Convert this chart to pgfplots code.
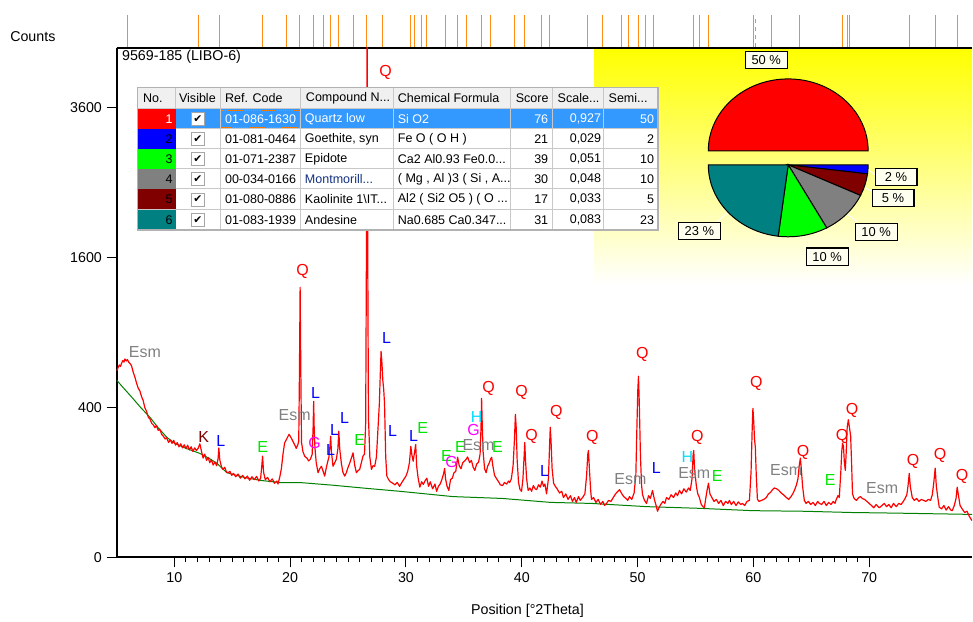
\documentclass[border=0pt]{standalone}
\usepackage{pgfplots}
\pgfplotsset{compat=1.18}
\usepackage{fontspec}
\setmainfont{Liberation Sans}
\newfontfamily\symfont{DejaVu Sans}

\definecolor{qred}{RGB}{255,0,0}
\definecolor{lblue}{RGB}{0,0,255}
\definecolor{egreen}{RGB}{0,230,0}
\definecolor{gmag}{RGB}{255,0,255}
\definecolor{hcyan}{RGB}{0,220,255}
\definecolor{kmaroon}{RGB}{128,0,0}
\definecolor{esmgray}{RGB}{128,128,128}
\definecolor{stick}{RGB}{255,140,20}
\definecolor{bgline}{RGB}{0,128,0}
\definecolor{selblue}{RGB}{51,153,255}
\definecolor{pteal}{RGB}{0,128,128}
\definecolor{pgreen}{RGB}{0,255,0}
\definecolor{gridgray}{RGB}{200,200,200}
\definecolor{headgray}{RGB}{240,240,240}
\definecolor{ivory}{RGB}{255,255,240}
\definecolor{navytext}{RGB}{20,50,130}

% peak labels of the phases, in picture pixels
\newcommand\lab[4]{\node[text=#3, inner sep=0pt, font=\fontsize{12}{12}\selectfont] at (#1,#2) {#4};}

% one row of the phase table
\def\tc{black}\def\numc{black}
\newcommand\tabrow[9]{%
  \fill[#2] (138,#1-10) rectangle (176,#1+10);
  \node[anchor=east, inner sep=0pt, text=\numc] at (173,#1) {#3};
  \draw[gray!70, fill=white] (191.5,#1-6.5) rectangle (204.5,#1+6.5);
  \node[inner sep=0pt] at (198,#1) {\symfont\fontsize{8}{8}\selectfont ✔};
  \node[anchor=west, inner sep=0pt, text=\tc] at (225,#1) {#4};
  \node[anchor=west, inner sep=0pt, text=\tc] at (305,#1) {#5};
  \node[anchor=west, inner sep=0pt, text=\tc] at (398,#1) {#6};
  \node[anchor=east, inner sep=0pt, text=\tc] at (549,#1) {#7};
  \node[anchor=east, inner sep=0pt, text=\tc] at (602,#1) {#8};
  \node[anchor=east, inner sep=0pt, text=\tc] at (655,#1) {#9};
}

\begin{document}
\begin{tikzpicture}[font=\fontsize{10.7}{12}\selectfont]
\begin{scope}[x=0.75pt, y=-0.75pt]
\useasboundingbox (0,0) rectangle (973,622);
% yellow pie background
\shade[top color=yellow, bottom color=white] (595,48) rectangle (973,285);
\end{scope}

\begin{axis}[
  at={(87.525pt,-418.5pt)}, anchor=south west,
  scale only axis, width=642.2pt, height=382.7pt,
  xmin=5.01, xmax=78.88, ymin=0, ymax=4629,
  y coord trafo/.code={\pgfmathparse{sqrt(#1)}},
  y coord inv trafo/.code={\pgfmathparse{(#1)^2}},
  ytick={0,400,1600,3600}, yticklabels={0,400,1600,3600},
  xtick={10,20,...,70}, minor x tick num=9,
  axis x line=box, axis y line=left,
  y axis line style={-},
  axis line style={line width=1.5pt, black},
  tick align=outside, xtick pos=left, ytick pos=left,
  major tick length=7.5pt, minor tick length=3.75pt,
  tick style={black, line width=0.75pt},
  ticklabel style={font=\fontsize{10.7}{12}\selectfont},
  /pgf/number format/assume math mode=true,
]
% background
\addplot[bgline, line width=0.75pt] table {
5.02 560
5.5 520
6.33 457
7.1 400
7.89 350
8.6 300
9.35 257
10.04 232
11.0 212
12.2 193
13.0 175
13.67 158
14.53 128
15.05 123
16.2 113
17.38 106
19.11 100
20.83 100
23.68 93
26.61 85
29.46 78
34.03 66
38.34 62
42.49 54
46.02 52
50.77 46
55.34 43
59.92 39
64.4 38
68.46 36
72.34 35
78.9 33
};
% measured pattern
\addplot[qred, line width=0.9pt, line join=round] table {
5.02 620
5.13 640
5.25 660
5.35 650
5.44 672
5.55 690
5.65 680
5.73 702
5.85 688
5.95 698
6.05 680
6.15 672
6.3 655
6.45 610
6.59 580
6.72 545
6.88 510
7.02 495
7.17 460
7.3 440
7.45 400
7.6 380
7.75 350
7.89 342
8.05 320
8.2 312
8.32 300
8.45 310
8.6 288
8.75 292
8.9 270
9.05 262
9.2 250
9.33 255
9.5 236
9.65 246
9.8 232
9.95 244
10.1 225
10.25 235
10.4 218
10.55 230
10.7 214
10.85 226
11.0 212
11.15 224
11.3 206
11.45 218
11.6 200
11.75 214
11.9 204
12.05 212
12.2 230
12.32 205
12.48 176
12.62 190
12.78 168
12.92 178
13.06 160
13.2 170
13.35 152
13.5 162
13.65 150
13.78 175
13.84 214
13.92 170
14.07 146
14.2 138
14.35 145
14.5 130
14.65 128
14.8 132
14.95 120
15.1 126
15.3 116
15.5 124
15.7 112
15.9 120
16.1 110
16.3 118
16.5 106
16.7 116
16.9 108
17.1 117
17.3 104
17.45 112
17.55 150
17.62 183
17.7 130
17.85 108
18.05 114
18.25 102
18.45 110
18.65 98
18.85 104
18.95 96
19.1 115
19.24 140
19.38 190
19.52 234
19.7 250
19.9 270
20.05 258
20.24 240
20.4 225
20.52 212
20.65 225
20.74 240
20.8 600
20.86 1300
20.92 620
20.98 236
21.1 200
21.26 182
21.45 176
21.6 166
21.75 172
21.9 190
21.98 300
22.03 434
22.08 280
22.14 215
22.25 160
22.41 128
22.55 140
22.7 148
22.85 132
22.98 118
23.1 140
23.22 160
23.35 180
23.45 230
23.5 262
23.56 200
23.7 148
23.85 160
23.99 172
24.12 210
24.2 284
24.28 210
24.42 158
24.55 130
24.71 118
24.85 128
25.0 145
25.14 158
25.28 175
25.43 195
25.58 150
25.72 128
25.85 134
26.0 138
26.15 160
26.29 183
26.42 190
26.52 320
26.58 1500
26.64 5300
26.7 1600
26.76 350
26.88 180
27.02 138
27.15 150
27.3 148
27.45 180
27.58 292
27.7 420
27.8 640
27.85 757
27.92 680
28.0 560
28.08 500
28.15 420
28.25 180
28.35 118
28.5 108
28.65 102
28.87 98
29.05 94
29.25 100
29.45 90
29.6 98
29.8 108
30.0 118
30.15 132
30.3 160
30.42 220
30.5 190
30.62 165
30.75 200
30.84 227
30.92 150
31.05 112
31.2 88
31.35 102
31.5 95
31.65 105
31.8 112
31.95 90
32.1 102
32.3 84
32.5 96
32.65 78
32.8 90
32.95 96
33.1 108
33.25 125
33.34 141
33.42 110
33.55 90
33.7 80
33.85 108
34.0 112
34.15 128
34.3 132
34.46 179
34.6 150
34.75 140
34.9 160
35.05 165
35.2 172
35.32 180
35.5 160
35.65 168
35.8 145
35.95 135
36.1 155
36.27 162
36.4 190
36.48 300
36.53 451
36.58 330
36.66 200
36.79 140
36.92 128
37.05 148
37.2 160
37.3 172
37.4 179
37.5 150
37.65 120
37.83 110
38.0 102
38.15 94
38.34 92
38.5 100
38.7 96
38.85 104
38.95 100
39.1 110
39.25 150
39.37 250
39.45 365
39.52 300
39.6 170
39.72 100
39.85 82
39.98 78
40.1 110
40.2 180
40.26 236
40.32 170
40.42 110
40.55 80
40.7 86
40.85 78
41.0 92
41.15 84
41.28 82
41.45 94
41.6 88
41.75 104
41.88 90
42.0 96
42.14 72
42.3 110
42.4 220
42.46 302
42.52 250
42.62 140
42.75 98
42.9 90
43.05 84
43.26 74
43.45 78
43.6 64
43.8 72
44.0 60
44.2 68
44.38 56
44.55 64
44.7 54
44.9 66
45.05 58
45.25 64
45.45 72
45.6 120
45.7 190
45.76 204
45.84 140
45.95 80
46.02 60
46.2 64
46.4 54
46.6 60
46.8 50
47.0 56
47.15 48
47.32 52
47.5 58
47.7 56
47.9 64
48.1 72
48.3 78
48.44 82
48.6 74
48.8 66
49.0 62
49.15 58
49.3 66
49.5 60
49.7 74
49.85 120
49.95 320
50.02 500
50.08 585
50.15 420
50.25 180
50.35 92
50.43 70
50.6 58
50.77 52
50.95 68
51.1 62
51.29 80
51.45 60
51.6 48
51.72 38
51.85 44
52.0 50
52.2 56
52.35 52
52.5 64
52.7 60
52.9 70
53.1 64
53.3 74
53.45 68
53.62 80
53.8 72
54.0 84
54.2 76
54.4 86
54.55 80
54.7 110
54.8 190
54.85 204
54.92 140
55.08 90
55.2 72
55.34 64
55.5 50
55.65 46
55.77 44
55.9 64
56.0 80
56.12 98
56.25 72
56.46 62
56.6 56
56.8 60
57.0 52
57.2 58
57.4 48
57.6 56
57.8 52
57.93 58
58.1 50
58.3 56
58.5 48
58.7 55
58.9 50
59.05 52
59.25 48
59.45 56
59.66 58
59.8 130
59.9 300
59.96 396
60.02 340
60.1 250
60.17 216
60.25 120
60.35 60
60.5 56
60.7 58
60.9 60
61.12 64
61.3 72
61.5 76
61.65 82
61.81 86
62.0 84
62.2 80
62.4 74
62.6 70
62.85 64
63.05 60
63.25 66
63.4 72
63.54 80
63.7 92
63.85 110
63.96 150
64.06 176
64.14 140
64.25 90
64.4 58
64.55 52
64.75 56
64.95 50
65.15 54
65.35 48
65.55 56
65.7 52
65.9 50
66.1 56
66.3 48
66.5 54
66.7 50
66.9 56
67.05 52
67.16 60
67.3 68
67.42 64
67.55 130
67.63 200
67.7 232
67.78 220
67.86 160
67.94 135
68.02 200
68.1 300
68.2 338
68.3 300
68.4 262
68.48 160
68.56 72
68.7 62
68.9 58
69.1 64
69.25 66
69.41 62
69.6 60
69.8 56
70.0 52
70.2 48
70.4 44
70.6 50
70.87 44
71.1 48
71.3 52
71.5 46
71.7 50
71.9 44
72.1 52
72.34 46
72.55 52
72.75 50
72.95 56
73.1 62
73.25 70
73.35 90
73.46 126
73.55 90
73.72 64
73.9 58
74.1 62
74.3 56
74.5 60
74.7 58
74.9 56
75.1 60
75.3 58
75.45 70
75.58 100
75.7 142
75.8 90
75.95 60
76.05 45
76.25 42
76.45 48
76.65 40
76.85 46
77.05 40
77.17 39
77.35 48
77.5 62
77.6 88
77.7 70
77.85 48
78.03 42
78.25 36
78.45 38
78.65 30
78.8 26
78.9 24
};
\end{axis}

% reference peak positions above the frame
\begin{axis}[
  at={(87.525pt,-35.25pt)}, anchor=south west,
  scale only axis, width=642.2pt, height=24pt,
  xmin=5.01, xmax=78.88, ymin=0, ymax=1,
  hide axis, clip=false,
]
\addplot[stick, ycomb, line width=0.75pt, mark=none] coordinates {
(5.99,1) (12.11,1) (13.93,1) (17.64,1) (19.71,1) (20.83,1) (22.04,1)
(22.90,1) (23.50,1) (24.19,1) (25.49,1) (26.61,1) (27.99,1) (30.40,1)
(30.75,1) (31.35,1) (31.78,1) (33.42,1) (34.46,1) (35.23,1) (36.53,1)
(37.30,1) (39.37,1) (40.24,1) (41.70,1) (42.39,1) (45.67,1) (46.96,1)
(48.60,1) (49.21,1) (50.07,1) (50.67,1) (51.36,1) (54.81,1) (55.33,1)
(56.11,1) (59.99,1) (61.55,1) (63.96,1) (67.67,1) (68.10,1) (68.28,1)
(73.45,1) (75.69,1) (77.59,1)
};
\addplot[stick, ycomb, line width=0.75pt, dashed, mark=none] coordinates {(60.17,1)};
\end{axis}

\begin{scope}[x=0.75pt, y=-0.75pt]
% texts around the frame
\node[anchor=west, inner sep=0pt] at (10,37) {Counts};
\node[anchor=west, inner sep=0pt] at (122,57) {9569-185 (LIBO-6)};
\node[inner sep=0pt] at (528,611) {Position [°2Theta]};

% phase labels
\lab{145}{352}{esmgray}{Esm}
\lab{386}{72}{qred}{Q}
\lab{303}{272}{qred}{Q}
\lab{387}{338}{lblue}{L}
\lab{295}{415}{esmgray}{Esm}
\lab{316}{393}{lblue}{L}
\lab{345}{418}{lblue}{L}
\lab{335}{430}{lblue}{L}
\lab{331}{450}{lblue}{L}
\lab{315}{443}{gmag}{G}
\lab{360}{440}{egreen}{E}
\lab{204}{437}{kmaroon}{K}
\lab{221}{441}{lblue}{L}
\lab{263}{447}{egreen}{E}
\lab{393}{431}{lblue}{L}
\lab{414}{436}{lblue}{L}
\lab{423}{428}{egreen}{E}
\lab{447}{456}{egreen}{E}
\lab{452}{462}{gmag}{G}
\lab{461}{447}{egreen}{E}
\lab{479}{446}{esmgray}{Esm}
\lab{477}{417}{hcyan}{H}
\lab{474}{430}{gmag}{G}
\lab{498}{447}{egreen}{E}
\lab{489}{389}{qred}{Q}
\lab{522}{393}{qred}{Q}
\lab{532}{437}{qred}{Q}
\lab{557}{413}{qred}{Q}
\lab{545}{471}{lblue}{L}
\lab{593}{438}{qred}{Q}
\lab{631}{480}{esmgray}{Esm}
\lab{643}{355}{qred}{Q}
\lab{657}{468}{lblue}{L}
\lab{688}{457}{hcyan}{H}
\lab{695}{474}{esmgray}{Esm}
\lab{718}{476}{egreen}{E}
\lab{698}{438}{qred}{Q}
\lab{757}{384}{qred}{Q}
\lab{787}{471}{esmgray}{Esm}
\lab{804}{453}{qred}{Q}
\lab{831}{480}{egreen}{E}
\lab{843}{437}{qred}{Q}
\lab{853}{411}{qred}{Q}
\lab{883}{489}{esmgray}{Esm}
\lab{914}{462}{qred}{Q}
\lab{941}{456}{qred}{Q}
\lab{963}{477}{qred}{Q}

% phase table
\begin{scope}[font=\fontsize{9.4}{10}\selectfont]
\fill[white] (138,88) rectangle (658,230);
\fill[headgray] (138,88) rectangle (658,109);
\fill[selblue] (176,109) rectangle (658,129);
\foreach \yy in {109,129,149,169,189,210}
  \draw[gridgray, line width=0.75pt] (138,\yy) -- (658,\yy);
\foreach \xx in {176,221,301,394,511,553,604}
  \draw[gridgray, line width=0.75pt] (\xx,88) -- (\xx,230);
\node[anchor=west, inner sep=0pt] at (143,98.5) {No.};
\node[anchor=west, inner sep=0pt] at (179,98.5) {Visible};
\node[anchor=west, inner sep=0pt] at (225,98.5) {Ref. Code};
\node[anchor=west, inner sep=0pt] at (306,98.5) {Compound N...};
\node[anchor=west, inner sep=0pt] at (398,98.5) {Chemical Formula};
\node[anchor=west, inner sep=0pt] at (516,98.5) {Score};
\node[anchor=west, inner sep=0pt] at (558,98.5) {Scale...};
\node[anchor=west, inner sep=0pt] at (609,98.5) {Semi...};
\def\tc{white}\def\numc{white}
\tabrow{119}{qred}{1}{01-086-1630}{Quartz low}{Si O2}{76}{0,927}{50}
\def\tc{black}\def\numc{black}
\tabrow{139}{lblue}{2}{01-081-0464}{Goethite, syn}{Fe O ( O H )}{21}{0,029}{2}
\tabrow{159}{pgreen}{3}{01-071-2387}{Epidote}{Ca2 Al0.93 Fe0.0...}{39}{0,051}{10}
\tabrow{179}{esmgray}{4}{00-034-0166}{\textcolor{navytext}{Montmorill...}}{( Mg , Al )3 ( Si , A...}{30}{0,048}{10}
\tabrow{199.5}{kmaroon}{5}{01-080-0886}{Kaolinite 1\textbackslash IT...}{Al2 ( Si2 O5 ) ( O ...}{17}{0,033}{5}
\tabrow{220}{pteal}{6}{01-083-1939}{Andesine}{Na0.685 Ca0.347...}{31}{0,083}{23}
\draw[orange, densely dotted, line width=0.6pt] (222,110.5) rectangle (300,127.5);
\draw[gray!60, line width=1.2pt] (137.5,87.5) rectangle (658.5,230.5);
\end{scope}

% leader lines of the pie labels
\begin{scope}[line width=0.75pt, white]
  \draw (790,68) -- (790,79);
  \draw (879,177) -- (869,170);
  \draw (876,193) -- (866,188);
  \draw (858,222) -- (849,215);
  \draw (806,247) -- (806,238);
  \draw (718,222) -- (728,213);
\end{scope}
\end{scope}

% pie of the semi-quantitative amounts
\begin{scope}[shift={(591.75pt,-113.25pt)}, x=0.75pt, y=0.75pt]
  \filldraw[fill=qred, draw=black, line width=0.75pt]
    (0:80 and 72) arc[start angle=0, end angle=180, x radius=80, y radius=72] -- cycle;
\end{scope}
\begin{scope}[shift={(591.75pt,-123.75pt)}, x=0.75pt, y=0.75pt]
  \foreach \a/\b/\c in {0/2/lblue, 2/7/kmaroon, 7/17/esmgray, 17/27/pgreen, 27/50/pteal}
    \filldraw[fill=\c, draw=black, line width=0.75pt]
      (0,0) -- ({-3.6*\a}:80 and 72)
      arc[start angle={-3.6*\a}, end angle={-3.6*\b}, x radius=80, y radius=72] -- cycle;
\end{scope}

\begin{scope}[x=0.75pt, y=-0.75pt, every node/.style={draw=black, fill=ivory, line width=0.9pt,
    inner sep=0pt, minimum width=31.5pt, minimum height=13pt,
    font=\fontsize{9.7}{10}\selectfont}]
  \node at (767,60) {50 \%};
  \node at (897,177) {2 \%};
  \node at (894,198) {5 \%};
  \node at (877,232) {10 \%};
  \node at (828,257) {10 \%};
  \node at (700,231) {23 \%};
\end{scope}
\end{tikzpicture}
\end{document}
